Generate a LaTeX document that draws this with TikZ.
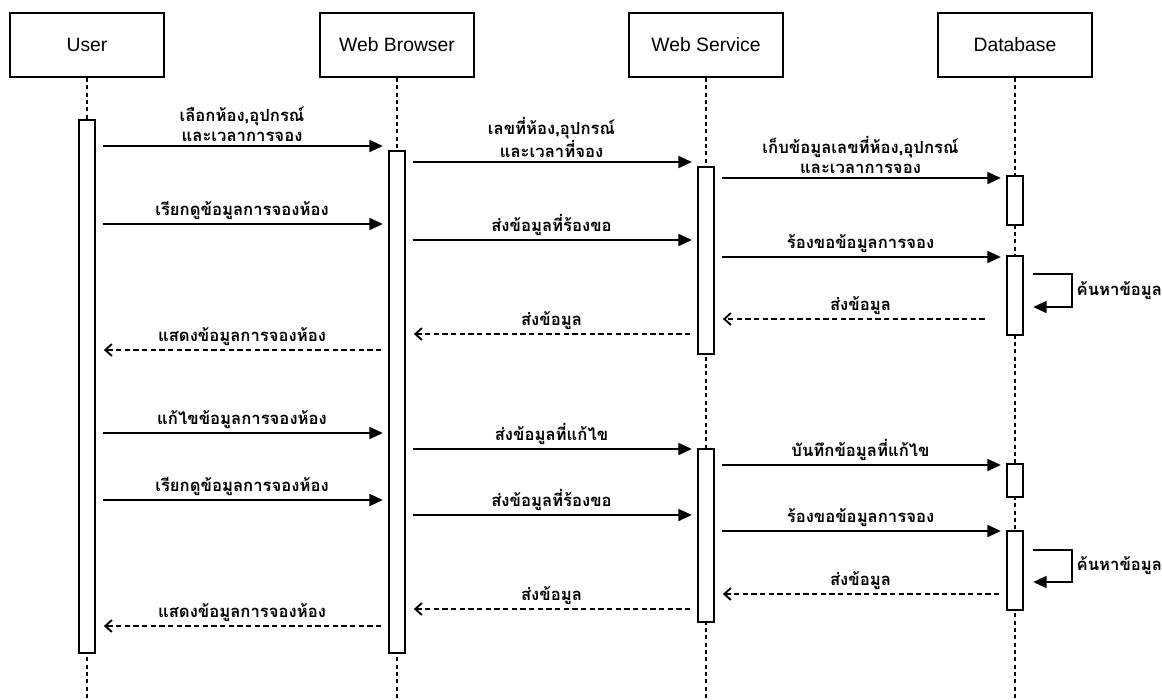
\documentclass[tikz,border=0pt]{standalone}
\usepackage{fontspec}
\setmainfont{Liberation Sans}
\newfontfamily\thaifont[Script=Thai]{Loma}
\usetikzlibrary{arrows.meta,fit}

\tikzset{
  head/.style={draw, line width=1.3pt, minimum width=116pt, minimum height=48pt, font=\fontsize{14.5}{17}\selectfont},
  life/.style={line width=1.1pt, dash pattern=on 3pt off 2.5pt},
  act/.style={draw, fill=white, line width=1.3pt, inner sep=0pt},
  msg/.style={line width=1.2pt, -{Triangle[length=10pt,width=9pt]}, shorten <=5pt, shorten >=4pt},
  ret/.style={line width=1.1pt, dash pattern=on 4pt off 2.5pt, -{Straight Barb[length=5pt,width=9pt,line width=1.4pt]}, shorten <=5pt, shorten >=6pt},
  selfmsg/.style={line width=1.2pt, -{Triangle[length=10pt,width=9pt]}, shorten <=7pt, shorten >=7pt},
  lbl/.style={font=\thaifont\bfseries\fontsize{12.5}{15.5}\selectfont, align=center, inner sep=2.5pt}
}

\begin{document}
\begin{tikzpicture}[x=0.75pt, y=-0.75pt]
\useasboundingbox (0,0) rectangle (1162,699);

% heads
\node[head] (user) at (87,45) {User};
\node[head] (browser) at (397,45) {Web Browser};
\node[head] (service) at (706,45) {Web Service};
\node[head] (db) at (1015,45) {Database};

% lifelines
\coordinate (userend) at (87,699);
\coordinate (browserend) at (397,699);
\coordinate (serviceend) at (706,699);
\coordinate (dbend) at (1015,699);
\draw[life] (user) -- (userend);
\draw[life] (browser) -- (browserend);
\draw[life] (service) -- (serviceend);
\draw[life] (db) -- (dbend);

% activation bars
\node[act, fit={(79,120) (95,653)}] (uact) {};
\node[act, fit={(389,151) (405,653)}] (bact) {};
\node[act, fit={(698,167) (714,354)}] (sact1) {};
\node[act, fit={(698,449) (714,622)}] (sact2) {};
\node[act, fit={(1007,176) (1023,225)}] (dact1) {};
\node[act, fit={(1007,256) (1023,335)}] (dact2) {};
\node[act, fit={(1007,464) (1023,497)}] (dact3) {};
\node[act, fit={(1007,531) (1023,610)}] (dact4) {};

% booking
\draw[msg] (uact.east |- 0,146) -- node[lbl, above] (m1) {เลือกห้อง,อุปกรณ์\\และเวลาการจอง} (bact.west |- 0,146);
\draw[msg] (bact.east |- 0,162) -- node[lbl, above] (m2) {เลขที่ห้อง,อุปกรณ์\\และเวลาที่จอง} (sact1.west |- 0,162);
\draw[msg] (sact1.east |- 0,178) -- node[lbl, above] (m3) {เก็บข้อมูลเลขที่ห้อง,อุปกรณ์\\และเวลาการจอง} (dact1.west |- 0,178);

% view
\draw[msg] (uact.east |- 0,224) -- node[lbl, above] (m4) {เรียกดูข้อมูลการจองห้อง} (bact.west |- 0,224);
\draw[msg] (bact.east |- 0,240) -- node[lbl, above] (m5) {ส่งข้อมูลที่ร้องขอ} (sact1.west |- 0,240);
\draw[msg] (sact1.east |- 0,257) -- node[lbl, above] (m6) {ร้องขอข้อมูลการจอง} (dact2.west |- 0,257);
\draw[selfmsg] (dact2.east |- 0,274) -- ++(48,0) -- ++(0,33) -- (dact2.east |- 0,307);
\node[lbl, anchor=west] (m7) at (1073,291) {ค้นหาข้อมูล};
\draw[ret, shorten <=16pt] (dact2.west |- 0,319) -- node[lbl, above] (m8) {ส่งข้อมูล} (sact1.east |- 0,319);
\draw[ret] (sact1.west |- 0,334) -- node[lbl, above] (m9) {ส่งข้อมูล} (bact.east |- 0,334);
\draw[ret] (bact.west |- 0,350) -- node[lbl, above] (m10) {แสดงข้อมูลการจองห้อง} (uact.east |- 0,350);

% edit
\draw[msg] (uact.east |- 0,433) -- node[lbl, above] (m11) {แก้ไขข้อมูลการจองห้อง} (bact.west |- 0,433);
\draw[msg] (bact.east |- 0,449) -- node[lbl, above] (m12) {ส่งข้อมูลที่แก้ไข} (sact2.west |- 0,449);
\draw[msg] (sact2.east |- 0,465) -- node[lbl, above] (m13) {บันทึกข้อมูลที่แก้ไข} (dact3.west |- 0,465);

% view again
\draw[msg] (uact.east |- 0,500) -- node[lbl, above] (m14) {เรียกดูข้อมูลการจองห้อง} (bact.west |- 0,500);
\draw[msg] (bact.east |- 0,515) -- node[lbl, above] (m15) {ส่งข้อมูลที่ร้องขอ} (sact2.west |- 0,515);
\draw[msg] (sact2.east |- 0,531) -- node[lbl, above] (m16) {ร้องขอข้อมูลการจอง} (dact4.west |- 0,531);
\draw[selfmsg] (dact4.east |- 0,550) -- ++(48,0) -- ++(0,32) -- (dact4.east |- 0,582);
\node[lbl, anchor=west] (m17) at (1073,566) {ค้นหาข้อมูล};
\draw[ret] (dact4.west |- 0,594) -- node[lbl, above] (m18) {ส่งข้อมูล} (sact2.east |- 0,594);
\draw[ret] (sact2.west |- 0,609) -- node[lbl, above] (m19) {ส่งข้อมูล} (bact.east |- 0,609);
\draw[ret] (bact.west |- 0,626) -- node[lbl, above] (m20) {แสดงข้อมูลการจองห้อง} (uact.east |- 0,626);

\end{tikzpicture}
\end{document}
